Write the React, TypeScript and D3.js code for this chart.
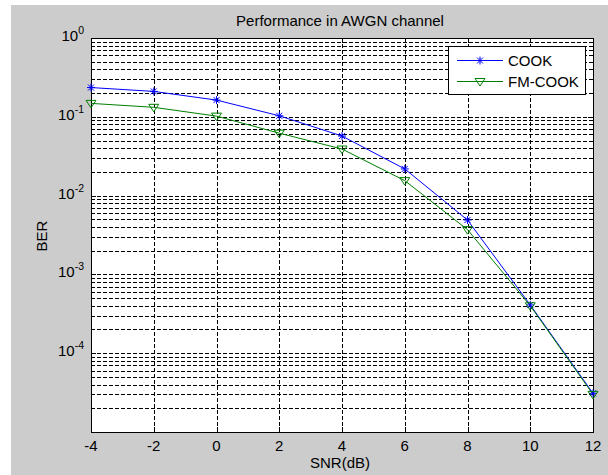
import React from "react";
import * as d3 from "d3";

const snr = [-4, -2, 0, 2, 4, 6, 8, 10, 12];
const cook = [0.235, 0.21, 0.163, 0.103, 0.057, 0.0218, 0.0049, 0.00041, 0.000031];
const fmCook = [0.148, 0.132, 0.102, 0.062, 0.039, 0.0155, 0.0037, 0.0004, 0.00003];
const xTicks = [-4, -2, 0, 2, 4, 6, 8, 10, 12];
const yExponents = [0, -1, -2, -3, -4];
const titleText = "Performance in AWGN channel";
const xLabel = "SNR(dB)";
const yLabel = "BER";
const seriesNames = ["COOK", "FM-COOK"];

const W = 608;
const H = 475;
const L = 91, R = 593, T = 38, B = 432;
const FONT = "'Liberation Sans', Arial, sans-serif";

export default function App() {
  const x = d3.scaleLinear().domain([-4, 12]).range([L, R]);
  const y = d3.scaleLog().domain([1e-5, 1]).range([B, T]);

  const minorVals: number[] = [];
  for (let e = -5; e < 0; e++) {
    for (let m = 2; m <= 9; m++) minorVals.push(m * Math.pow(10, e));
  }
  const majorVals = [1e-4, 1e-3, 1e-2, 1e-1];

  const line = d3
    .line<number>()
    .x((_, i) => x(snr[i]))
    .y((d) => y(d));

  const px = (v: number) => Math.round(v) + 0.5;

  const asterisk = (cx: number, cy: number, key: string, color: string) => {
    const r = 4;
    const d = r * 0.75;
    return (
      <g key={key} stroke={color} strokeWidth={1}>
        <line x1={cx - r} y1={cy} x2={cx + r} y2={cy} />
        <line x1={cx} y1={cy - r} x2={cx} y2={cy + r} />
        <line x1={cx - d} y1={cy - d} x2={cx + d} y2={cy + d} />
        <line x1={cx - d} y1={cy + d} x2={cx + d} y2={cy - d} />
      </g>
    );
  };
  const triDown = (cx: number, cy: number, key: string, color: string) => {
    const r = 5;
    const pts = `${cx - r},${cy - r * 0.6} ${cx + r},${cy - r * 0.6} ${cx},${cy + r * 0.9}`;
    return <polygon key={key} points={pts} fill="none" stroke={color} strokeWidth={1} />;
  };

  const blue = "#0000ff";
  const green = "#008000";

  return (
    <div style={{ position: "fixed", left: 0, top: 0 }}>
      <svg width={W} height={H} style={{ display: "block" }} fontFamily={FONT}>
        <rect x={0} y={0} width={W} height={H} fill="#ffffff" />
        <rect x={11} y={5} width={W - 11} height={H - 5} fill="#cccccc" />
        <rect x={L} y={T} width={R - L} height={B - T} fill="#ffffff" />

        {/* grid */}
        <g stroke="#000" strokeWidth={1} strokeDasharray="4,2" shapeRendering="crispEdges">
          {minorVals.map((v, i) => (
            <line key={"mn" + i} x1={L} x2={R} y1={px(y(v))} y2={px(y(v))} />
          ))}
          {majorVals.map((v, i) => (
            <line key={"mj" + i} x1={L} x2={R} y1={px(y(v))} y2={px(y(v))} />
          ))}
          {xTicks.slice(1, -1).map((t) => (
            <line key={"xg" + t} x1={px(x(t))} x2={px(x(t))} y1={T} y2={B} />
          ))}
        </g>

        {/* ticks */}
        <g stroke="#000" strokeWidth={1} shapeRendering="crispEdges">
          {xTicks.map((t) => (
            <g key={"xt" + t}>
              <line x1={px(x(t))} x2={px(x(t))} y1={B} y2={B - 5} />
              <line x1={px(x(t))} x2={px(x(t))} y1={T} y2={T + 5} />
            </g>
          ))}
          {majorVals.map((v, i) => (
            <g key={"yt" + i}>
              <line x1={L} x2={L + 5} y1={px(y(v))} y2={px(y(v))} />
              <line x1={R} x2={R - 5} y1={px(y(v))} y2={px(y(v))} />
            </g>
          ))}
          {minorVals.map((v, i) => (
            <g key={"ymt" + i}>
              <line x1={L} x2={L + 3} y1={px(y(v))} y2={px(y(v))} />
              <line x1={R} x2={R - 3} y1={px(y(v))} y2={px(y(v))} />
            </g>
          ))}
          <rect x={L + 0.5} y={T + 0.5} width={R - L} height={B - T} fill="none" />
        </g>

        {/* series */}
        <path d={line(cook) || ""} fill="none" stroke={blue} strokeWidth={1} />
        <path d={line(fmCook) || ""} fill="none" stroke={green} strokeWidth={1} />
        {cook.map((v, i) => asterisk(x(snr[i]), y(v), "c" + i, blue))}
        {fmCook.map((v, i) => triDown(x(snr[i]), y(v), "f" + i, green))}

        {/* x tick labels */}
        <g fontSize={15} textAnchor="middle" fill="#000">
          {xTicks.map((t) => (
            <text key={"xl" + t} x={x(t)} y={451}>
              {t}
            </text>
          ))}
        </g>
        {/* y tick labels */}
        <g fontSize={15} textAnchor="end" fill="#000">
          {yExponents.map((e) => (
            <text key={"yl" + e} x={84} y={y(Math.pow(10, e)) + 3}>
              10
              <tspan fontSize={10.5} dy={-7}>
                {e}
              </tspan>
            </text>
          ))}
        </g>

        <text x={(L + R) / 2 - 2} y={26} fontSize={15} textAnchor="middle">
          {titleText}
        </text>
        <text x={(L + R) / 2 - 2} y={468} fontSize={15} textAnchor="middle">
          {xLabel}
        </text>
        <text
          x={0}
          y={0}
          fontSize={15}
          textAnchor="middle"
          transform={`translate(47,236) rotate(-90)`}
        >
          {yLabel}
        </text>

        {/* legend */}
        <g>
          <rect x={448.5} y={46.5} width={137} height={48} fill="#fff" stroke="#000" strokeWidth={1} />
          <line x1={457} x2={503} y1={60.5} y2={60.5} stroke={blue} />
          {asterisk(480, 60.5, "la", blue)}
          <text x={508} y={66} fontSize={15}>
            {seriesNames[0]}
          </text>
          <line x1={457} x2={503} y1={81.5} y2={81.5} stroke={green} />
          {triDown(480, 81.5, "lb", green)}
          <text x={508} y={87} fontSize={15}>
            {seriesNames[1]}
          </text>
        </g>
      </svg>
    </div>
  );
}
